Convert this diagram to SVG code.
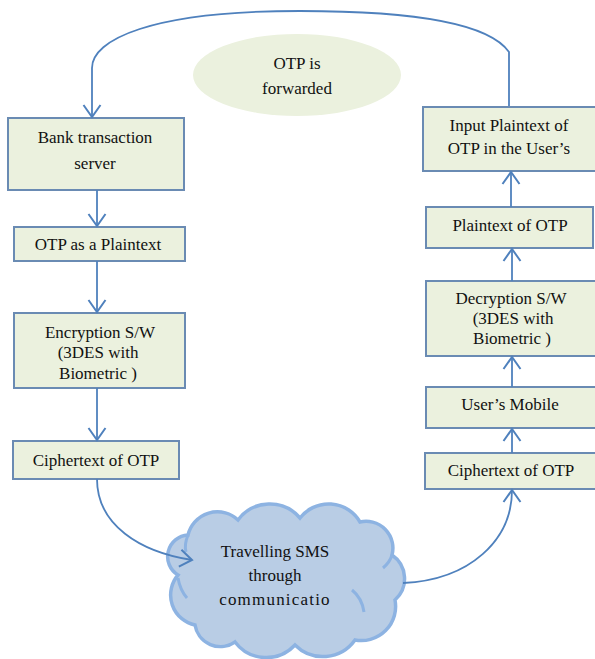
<svg xmlns="http://www.w3.org/2000/svg" width="595" height="659" viewBox="0 0 595 659">
<defs>
<style>
.box{fill:#ebf1de;stroke:#6a8bb3;stroke-width:2}
.c{fill:none;stroke:#4f81bd;stroke-width:1.8}
.arr{marker-end:url(#ah)}
</style>
<marker id="ah" markerUnits="userSpaceOnUse" viewBox="-14 -10 16 20" refX="0" refY="0" markerWidth="16" markerHeight="20" orient="auto">
<path d="M-12,-8.5 L0,0 L-12,8.5" fill="none" stroke="#4f81bd" stroke-width="2"/>
</marker>
</defs>
<rect width="595" height="659" fill="#fff"/>
<g font-family="Liberation Serif, DejaVu Serif, serif" font-size="17" fill="#111" text-anchor="middle">
<g id="forwarded">
<ellipse cx="297" cy="75" rx="104" ry="41" fill="#ebf1de"/>
<text x="297" y="69">OTP is</text>
<text x="297" y="94">forwarded</text>
</g>

<g id="bank">
<rect class="box" x="8" y="118" width="176" height="72"/>
<text x="95" y="143">Bank transaction</text>
<text x="95" y="169">server</text>
</g>
<g id="plain-left">
<rect class="box" x="14" y="227" width="171" height="34"/>
<text x="98" y="250">OTP as a Plaintext</text>
</g>
<g id="encryption">
<rect class="box" x="14" y="313" width="171" height="75"/>
<text x="100" y="338">Encryption S/W</text>
<text x="98" y="358">(3DES with</text>
<text x="98" y="379">Biometric )</text>
</g>
<g id="cipher-left">
<rect class="box" x="13" y="441" width="166" height="38"/>
<text x="96" y="466">Ciphertext of OTP</text>
</g>

<g id="input-plain">
<rect class="box" x="423" y="107" width="176" height="64"/>
<text x="509" y="131">Input Plaintext of</text>
<text x="509" y="154">OTP in the User’s</text>
</g>
<g id="plain-right">
<rect class="box" x="426" y="207" width="167" height="41"/>
<text x="510" y="231">Plaintext of OTP</text>
</g>
<g id="decryption">
<rect class="box" x="426" y="281" width="173" height="75"/>
<text x="511" y="304">Decryption S/W</text>
<text x="513" y="324">(3DES with</text>
<text x="512" y="344">Biometric )</text>
</g>
<g id="mobile">
<rect class="box" x="426" y="387" width="173" height="41"/>
<text x="510" y="410">User’s Mobile</text>
</g>
<g id="cipher-right">
<rect class="box" x="425" y="453" width="174" height="36"/>
<text x="511" y="476">Ciphertext of OTP</text>
</g>

<g id="cloud">
<path d="M178,575 A21.6,21.6 0 0 1 188,535 A30.2,30.2 0 0 1 238,520 A39.5,39.5 0 0 1 300,518 A36.2,36.2 0 0 1 360,522 A26.8,26.8 0 0 1 392,555 A28.6,28.6 0 0 1 395,600 A34.2,34.2 0 0 1 355,640 A39.4,39.4 0 0 1 295,645 A39.2,39.2 0 0 1 235,642 A25.7,25.7 0 0 1 195,625 A30.7,30.7 0 0 1 178,575 Z" fill="#b9cde5" stroke="#8db3e2" stroke-width="3.5"/>
<g fill="none" stroke="#8db3e2" stroke-width="3">
<path d="M186,552 Q184,545 188,535"/>
<path d="M383,568 Q390,562 392,555"/>
<path d="M352,590 Q362,598 364,612"/>
<path d="M187,598 Q180,590 178,578"/>
</g>
<text x="275" y="557">Travelling SMS</text>
<text x="275" y="581">through</text>
<text x="275" y="605" letter-spacing="1.2">communicatio</text>
</g>
</g>
<g id="connectors">
<path class="c arr" d="M509,106 L509,52 C490,25 420,11 300,11 C150,11 92,40 92,68 L92,117"/>
<path class="c arr" d="M97,190 L97,226"/>
<path class="c arr" d="M97,261 L97,312"/>
<path class="c arr" d="M97,388 L97,440"/>
<path class="c arr" d="M97,479 C97,525 140,552 192,560"/>
<path class="c arr" d="M403,583 C470,580 512,540 512,490"/>
<path class="c arr" d="M512,453 L512,429"/>
<path class="c arr" d="M512,387 L512,357"/>
<path class="c arr" d="M512,281 L512,249"/>
<path class="c arr" d="M511,207 L511,172"/>
</g>
</svg>
